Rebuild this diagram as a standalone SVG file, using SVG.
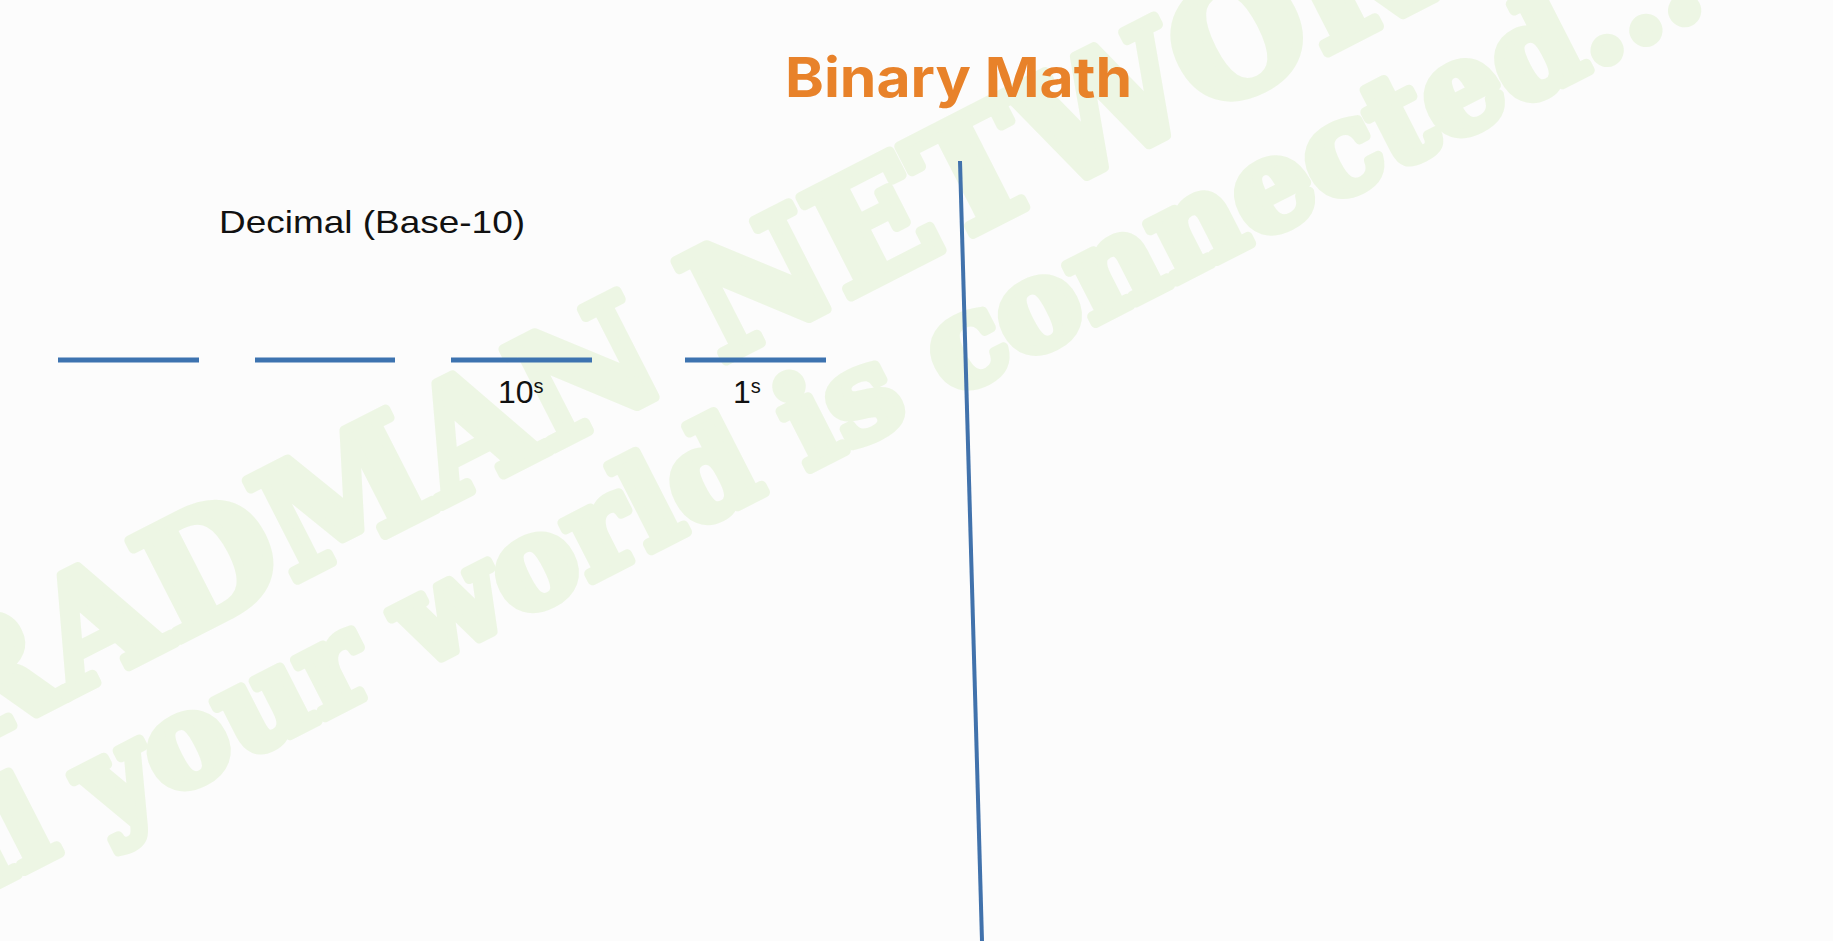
<svg xmlns="http://www.w3.org/2000/svg" width="1833" height="941" viewBox="0 0 1833 941">
<style>
.wm{fill:#EDF6E4;stroke:#EDF6E4;stroke-width:10;stroke-linejoin:round;font-family:"DejaVu Serif",serif;font-weight:700}
.hl{stroke:#3D73B0;stroke-width:5;fill:none}
.lbl{font-family:"Liberation Sans",Arial,sans-serif;fill:#111}
</style>
<rect width="1833" height="941" fill="#FCFCFC"/>
<g id="watermark" transform="translate(0,732) rotate(-27.1)">
<text class="wm" x="-180" y="0" font-size="153">BRADMAN NETWORKS</text>
<text class="wm" x="-305" y="135" font-size="125">...all your world is connected...</text>
</g>
<g id="title"><text x="785" y="97" font-family="Inter,'Liberation Sans',sans-serif" font-weight="700" font-size="55" fill="#E8822A" textLength="347" lengthAdjust="spacingAndGlyphs">Binary Math</text></g>
<g id="decimal-label"><text class="lbl" x="219" y="233" font-size="32" textLength="306" lengthAdjust="spacingAndGlyphs">Decimal (Base-10)</text></g>
<g id="connectors">
<line class="hl" x1="58" y1="360" x2="199" y2="360"/>
<line class="hl" x1="255" y1="360" x2="395" y2="360"/>
<line class="hl" x1="451" y1="360" x2="592" y2="360"/>
<line class="hl" x1="685" y1="360" x2="826" y2="360"/>
<line x1="960" y1="161" x2="982" y2="941" stroke="#4172AC" stroke-width="4"/>
</g>
<g id="tens"><text class="lbl" x="498" y="403" font-size="32">10<tspan font-size="20" dy="-10">s</tspan></text></g>
<g id="ones"><text class="lbl" x="733" y="403" font-size="32">1<tspan font-size="20" dy="-10">s</tspan></text></g>
</svg>
